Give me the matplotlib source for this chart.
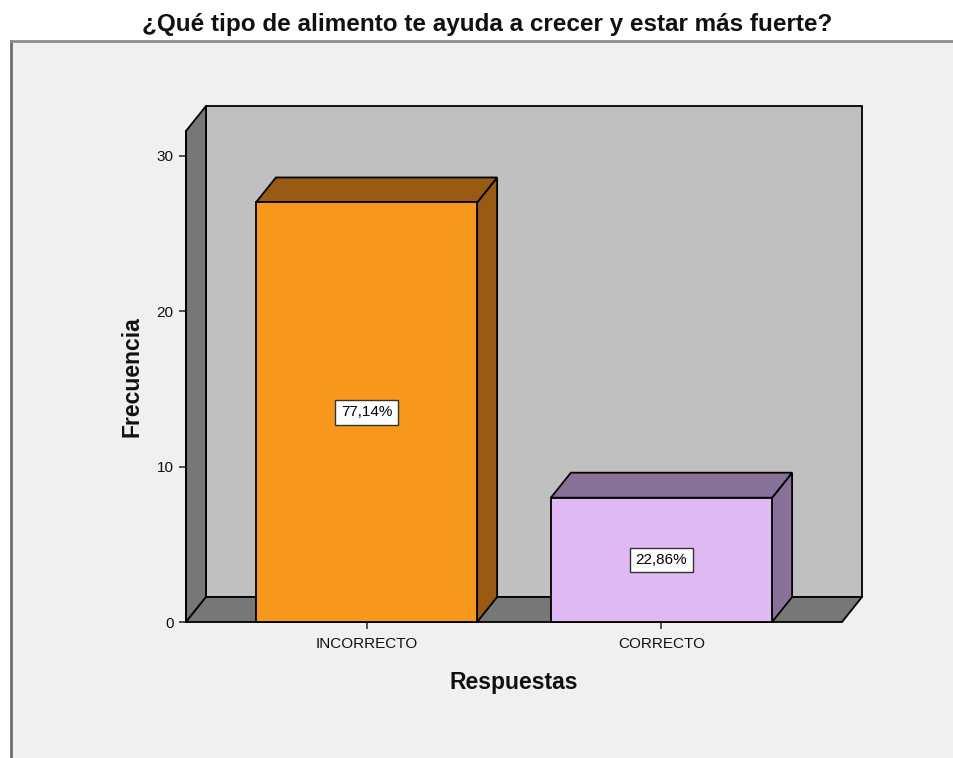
import matplotlib.pyplot as plt
from matplotlib.patches import Polygon, Rectangle
from matplotlib.lines import Line2D

plt.rcParams['font.family'] = ['Liberation Sans', 'DejaVu Sans']

# data
categorias = ['INCORRECTO', 'CORRECTO']
frecuencias = [27, 8]
yticks = [0, 10, 20, 30]
colores_frente = ['#F7981D', '#DFB9F2']
colores_lado = ['#995B14', '#88729A']

total = sum(frecuencias)
porcentajes = [('%.2f%%' % (100 * f / total)).replace('.', ',') for f in frecuencias]

W, H = 954, 758
fig = plt.figure(figsize=(W / 100, H / 100), dpi=100)
fig.patch.set_facecolor('white')

# panel gris de fondo
fig.add_artist(Rectangle((11 / W, -0.1), 1.2, 1.1 - 41 / H, transform=fig.transFigure,
                         facecolor='#F0F0F0', edgecolor='none', zorder=0))
fig.add_artist(Line2D([11 / W, 11 / W], [0, 1 - 41 / H], transform=fig.transFigure, color='#6E6E6E', lw=2))
fig.add_artist(Line2D([11 / W, 1], [1 - 41 / H, 1 - 41 / H], transform=fig.transFigure, color='#8C8C8C', lw=2))

ax_l, ax_b, ax_r, ax_t = 186, 622, 842, 131
ax = fig.add_axes([ax_l / W, 1 - ax_b / H, (ax_r - ax_l) / W, (ax_b - ax_t) / H])
ax.patch.set_visible(False)
for s in ax.spines.values():
    s.set_visible(False)

xmin, xmax = -0.612, 1.612
ymin, ymax = 0, 31.6
ax.set_xlim(xmin, xmax)
ax.set_ylim(ymin, ymax)

# profundidad 3D en unidades de datos
dx = 20 * (xmax - xmin) / (ax_r - ax_l)
dy = 25 * (ymax - ymin) / (ax_b - ax_t)

edge = dict(edgecolor='black', linewidth=1.3, clip_on=False, joinstyle='miter')

# pared del fondo
ax.add_patch(Polygon([(xmin + dx, dy), (xmax + dx, dy), (xmax + dx, ymax + dy), (xmin + dx, ymax + dy)],
                     facecolor='#C0C0C0', zorder=1, **edge))
# pared izquierda
ax.add_patch(Polygon([(xmin, 0), (xmin + dx, dy), (xmin + dx, ymax + dy), (xmin, ymax)],
                     facecolor='#777777', zorder=2, **edge))
# suelo
ax.add_patch(Polygon([(xmin, 0), (xmax, 0), (xmax + dx, dy), (xmin + dx, dy)],
                     facecolor='#777777', zorder=2, **edge))

ancho = 0.75
for i, (f, cf, cl, p) in enumerate(zip(frecuencias, colores_frente, colores_lado, porcentajes)):
    x0, x1 = i - ancho / 2, i + ancho / 2
    ax.add_patch(Polygon([(x1, 0), (x1 + dx, dy), (x1 + dx, f + dy), (x1, f)], facecolor=cl, zorder=3, **edge))
    ax.add_patch(Polygon([(x0, f), (x1, f), (x1 + dx, f + dy), (x0 + dx, f + dy)], facecolor=cl, zorder=3, **edge))
    ax.add_patch(Rectangle((x0, 0), ancho, f, facecolor=cf, zorder=4, **edge))
    ax.text(i, f / 2, p, ha='center', va='center', fontsize=11, zorder=5,
            bbox=dict(boxstyle='square,pad=0.35', facecolor='white', edgecolor='#333333', linewidth=1))

ax.add_line(Line2D([xmin, xmin], [0, ymax], color='black', lw=1.3, zorder=6, clip_on=False))

ax.set_xticks(range(len(categorias)))
ax.set_xticklabels(categorias)
ax.set_yticks(yticks)
ax.tick_params(axis='both', length=5, width=1.2, color='#333333', labelsize=11, labelcolor='#111111', pad=4)
ax.tick_params(axis='x', pad=6)

ax.set_xlabel('Respuestas', fontsize=16.5, fontweight='bold', color='#111111')
ax.xaxis.set_label_coords(0.5, (ax_b - 683) / (ax_b - ax_t))
ax.xaxis.label.set_va('center')
ax.set_ylabel('Frecuencia', fontsize=16.5, fontweight='bold', color='#111111')
ax.yaxis.set_label_coords((131.7 - ax_l) / (ax_r - ax_l), 0.5)
ax.yaxis.label.set_va('center')

fig.text(487 / W, 1 - 24 / H, '¿Qué tipo de alimento te ayuda a crecer y estar más fuerte?',
         ha='center', va='center', fontsize=17.5, fontweight='bold', color='#111111')

fig.savefig('out.png', dpi=100)
